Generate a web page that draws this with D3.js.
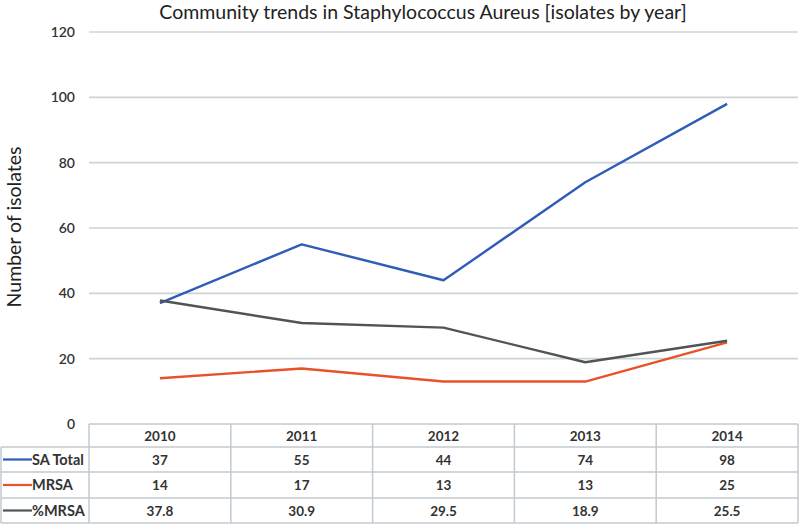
<!DOCTYPE html>
<html><head><meta charset="utf-8">
<script src="https://cdn.jsdelivr.net/npm/d3@7"></script>
<style>body{margin:0;background:#fff}svg{display:block}</style>
</head><body>
<svg id="c" width="800" height="525"></svg>
<script>
const years = ["2010","2011","2012","2013","2014"];
const saTotal = [37,55,44,74,98];
const mrsa = [14,17,13,13,25];
const pctMrsa = [37.8,30.9,29.5,18.9,25.5];
const seriesNames = ["SA Total","MRSA","%MRSA"];
const seriesLabels = [["37","55","44","74","98"],["14","17","13","13","25"],["37.8","30.9","29.5","18.9","25.5"]];
const yTicks = [0,20,40,60,80,100,120];

const colors = ["#2E5CB8","#E8522B","#4F5556"];
const series = [saTotal, mrsa, pctMrsa];
const font = "Lato, 'Open Sans', sans-serif";

const svg = d3.select("#c");
const L = 89, R = 798, T = 32, B = 424;
const x = d3.scaleBand().domain(years).range([L, R]);
const y = d3.scaleLinear().domain([0,120]).range([B, T]);

// title
svg.append("text").attr("x", 423).attr("y", 19).attr("text-anchor","middle")
  .attr("font-family", font).attr("font-size", 19.5).attr("fill","#222")
  .text("Community trends in Staphylococcus Aureus [isolates by year]");

// y label
svg.append("text").attr("transform","translate(21,227) rotate(-90)")
  .attr("text-anchor","middle").attr("font-family", font).attr("font-size", 19.5).attr("fill","#222")
  .text("Number of isolates");

// grid
svg.append("g").selectAll("line").data(yTicks.filter(d=>d>0)).join("line")
  .attr("x1", L).attr("x2", R).attr("y1", d=>y(d)).attr("y2", d=>y(d))
  .attr("stroke","#cfd2d4").attr("stroke-width",1.6);

// y axis labels
const yAxis = d3.axisLeft(y).tickValues(yTicks).tickSize(0).tickPadding(0);
const ga = svg.append("g").attr("transform",`translate(75,0)`).call(yAxis);
ga.select(".domain").remove();
ga.selectAll("text").attr("font-family", font).attr("font-size", 14).attr("font-weight",600).attr("fill","#333");

// lines
const line = d3.line().x((d,i)=>x(years[i]) + x.bandwidth()/2).y(d=>y(d));
series.forEach((s,k)=>{
  svg.append("path").datum(s).attr("d", line).attr("fill","none")
    .attr("stroke", colors[k]).attr("stroke-width", 2.4).attr("stroke-linejoin","round");
});

// table
const rows = [424, 447, 472, 498, 523];
const tg = svg.append("g");
const tc = "#c3cad1";
rows.forEach((ry,i)=>{
  tg.append("line").attr("x1", i===0 ? L : 1).attr("x2", R).attr("y1", ry).attr("y2", ry)
    .attr("stroke", tc).attr("stroke-width", 1.5);
});
tg.append("line").attr("x1",1).attr("x2",1).attr("y1",rows[1]).attr("y2",rows[4]).attr("stroke",tc).attr("stroke-width",1.5);
const colEdges = years.map(d=>x(d)).concat([R]);
colEdges.forEach(cx=>{
  tg.append("line").attr("x1",cx).attr("x2",cx).attr("y1",rows[0]).attr("y2",rows[4]).attr("stroke",tc).attr("stroke-width",1.5);
});
const fs = 13.5;
tg.selectAll("text.h").data(years).join("text").attr("class","h")
  .attr("x", d=>x(d)+x.bandwidth()/2).attr("y", (rows[0]+rows[1])/2 + 5)
  .attr("text-anchor","middle").attr("font-family", font).attr("font-size", fs).attr("font-weight", 700).attr("fill","#333")
  .text(d=>d);
seriesNames.forEach((nm,k)=>{
  const cy = (rows[k+1]+rows[k+2])/2;
  tg.append("line").attr("x1",3).attr("x2",32).attr("y1",cy).attr("y2",cy).attr("stroke",colors[k]).attr("stroke-width",2.2);
  tg.append("text").attr("x", 32).attr("y", cy+5).attr("font-family", font).attr("font-size", 14.5).attr("font-weight",700).attr("fill","#333").text(nm);
  tg.selectAll(null).data(seriesLabels[k]).join("text")
    .attr("x", (d,i)=>x(years[i])+x.bandwidth()/2).attr("y", cy+5)
    .attr("text-anchor","middle").attr("font-family", font).attr("font-size", fs).attr("font-weight",700).attr("fill","#333")
    .text(d=>d);
});
</script>
</body></html>
